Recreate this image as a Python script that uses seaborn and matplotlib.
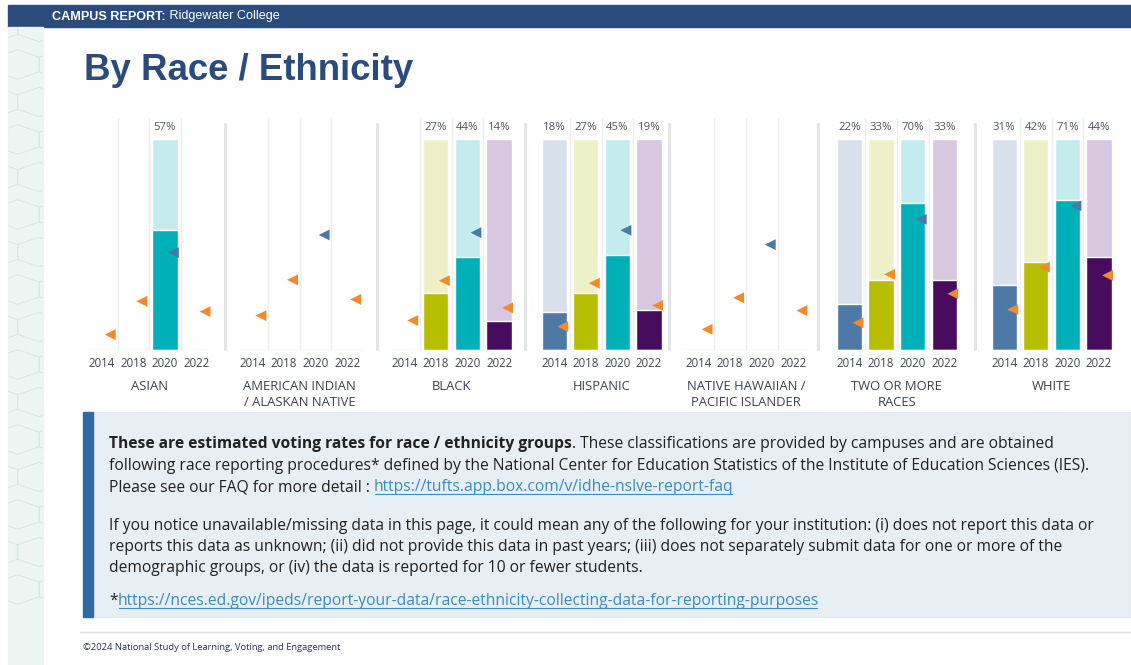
"""Campus report page: estimated voting rates by race / ethnicity."""

import matplotlib

matplotlib.use("Agg")

import matplotlib.pyplot as plt
import numpy as np
import pandas as pd
import seaborn as sns
from matplotlib.lines import Line2D
from matplotlib.patches import Rectangle, RegularPolygon

sns.set_style("white")
plt.rcParams["font.family"] = ["Open Sans", "DejaVu Sans"]

W, H = 1131, 665
nan = np.nan

YEARS = ["2014", "2018", "2020", "2022"]
GROUPS = [
    "ASIAN",
    "AMERICAN INDIAN\n/ ALASKAN NATIVE",
    "BLACK",
    "HISPANIC",
    "NATIVE HAWAIIAN /\nPACIFIC ISLANDER",
    "TWO OR MORE\nRACES",
    "WHITE",
]

# campus voting rate (%), one value per year
ASIAN_RATE = [nan, nan, 57, nan]
AIAN_RATE = [nan, nan, nan, nan]
BLACK_RATE = [nan, 27, 44, 14]
HISPANIC_RATE = [18, 27, 45, 19]
NHPI_RATE = [nan, nan, nan, nan]
MULTI_RATE = [22, 33, 70, 33]
WHITE_RATE = [31, 42, 71, 44]

# comparison markers (%), one value per year
ASIAN_CMP = [7.3, 23.1, 46.2, 18.2]
AIAN_CMP = [16.3, 33.3, 54.6, 24.0]
BLACK_CMP = [14.0, 32.9, 55.7, 20.0]
HISPANIC_CMP = [11.1, 31.7, 56.8, 21.1]
NHPI_CMP = [9.8, 24.8, 50.0, 18.7]
MULTI_CMP = [12.9, 35.9, 62.0, 26.7]
WHITE_CMP = [19.2, 39.3, 68.4, 35.4]

RATES = [ASIAN_RATE, AIAN_RATE, BLACK_RATE, HISPANIC_RATE, NHPI_RATE, MULTI_RATE, WHITE_RATE]
CMPS = [ASIAN_CMP, AIAN_CMP, BLACK_CMP, HISPANIC_CMP, NHPI_CMP, MULTI_CMP, WHITE_CMP]

DARK = {"2014": "#4e78a5", "2018": "#b7be00", "2020": "#00b0b8", "2022": "#470c5e"}
LIGHT = {"2014": "#d7e1eb", "2018": "#eef1c7", "2020": "#c4ecef", "2022": "#d7c8df"}
MARKER = {"2014": "#f28a2c", "2018": "#f28a2c", "2020": "#4e78a5", "2022": "#f28a2c"}

NAVY = "#2b4b7d"
LINK = "#3a8dbf"

# layout in pixels
PANEL_X0 = [101.7, 252.4, 404.2, 554.2, 698.5, 849.5, 1004.2]
COL_W = 31.6
BASE_Y, TOP_Y = 350, 139.3
SEPARATORS = [225, 377, 525, 669, 818, 975]


def fx(x):
    return x / W


def fy(y):
    return 1 - y / H


fig = plt.figure(figsize=(W / 100, H / 100), dpi=100)
renderer = fig.canvas.get_renderer()

# header band
fig.patches.append(
    Rectangle((fx(8), fy(27)), fx(W - 8), 22 / H, transform=fig.transFigure, color=NAVY)
)

# hexagon strip on the left
strip = Rectangle((fx(8), 0), 35 / W, fy(27), transform=fig.transFigure, color="#eef4f2")
fig.patches.append(strip)
for row in range(16):
    for col in range(3):
        cx = col * 43.3 + (21.65 if row % 2 else 0) - 4
        cy = 27 + row * 37.5
        hexagon = RegularPolygon(
            (fx(cx), fy(cy)), 6, radius=25 / W, orientation=0,
            transform=fig.transFigure, facecolor="none", edgecolor="#d9e6e2", lw=0.8,
        )
        fig.patches.append(hexagon)
        hexagon.set_clip_path(strip)


def draw_runs(x, y, runs, size, family="Open Sans"):
    """Draw consecutive text runs on one baseline; returns right edge in pixels."""
    for text, weight, color, underline in runs:
        t = fig.text(fx(x), fy(y), text, fontsize=size, fontweight=weight, color=color,
                     family=family, ha="left", va="baseline")
        bb = t.get_window_extent(renderer)
        if underline:
            fig.lines.append(Line2D([fx(bb.x0 + 1), fx(bb.x1 - 2)], [fy(y + 2.5)] * 2,
                                    transform=fig.transFigure, color=color, lw=0.8))
        x += bb.width
    return x


draw_runs(52, 19.5, [("CAMPUS REPORT:", "bold", "white", False),
                     (" Ridgewater College", "normal", "white", False)],
          9.1, family="Liberation Sans")

fig.text(fx(84), fy(71), "By Race / Ethnicity", fontsize=26.4, fontweight="bold",
         color=NAVY, family="Liberation Sans", ha="left", va="center")

for i, (label, rate, cmp) in enumerate(zip(GROUPS, RATES, CMPS)):
    left = PANEL_X0[i] - COL_W / 2
    ax = fig.add_axes([fx(left), fy(BASE_Y), 4 * COL_W / W, (BASE_Y - TOP_Y) / H])
    df = pd.DataFrame({"year": YEARS, "rate": rate}).dropna()
    df["full"] = 100
    if not df.empty:
        sns.barplot(data=df, x="year", y="full", hue="year", order=YEARS, hue_order=YEARS,
                    palette=LIGHT, width=0.8, saturation=1, legend=False, ax=ax)
        sns.barplot(data=df, x="year", y="rate", hue="year", order=YEARS, hue_order=YEARS,
                    palette=DARK, width=0.8, saturation=1, legend=False, ax=ax)
        for _, r in df.iterrows():
            ax.text(YEARS.index(r["year"]), 105.4, f"{r['rate']:.0f}%", ha="center",
                    va="center", fontsize=8.2, color="#505560", clip_on=False)

    ax.scatter(np.arange(4) + 0.27, cmp, marker="<", s=62,
               c=[MARKER[y] for y in YEARS], linewidths=0, zorder=5, clip_on=False)

    ax.vlines([0.5, 1.5, 2.5], 0, 110, color="#eeeeee", lw=1, zorder=0, clip_on=False)
    ax.axhline(0, color="#e2e2e2", lw=1, zorder=4)
    ax.set_xlim(-0.5, 3.5)
    ax.set_ylim(0, 100)
    ax.set_xticks(range(4), YEARS)
    ax.set_yticks([])
    ax.set_xlabel("")
    ax.set_ylabel("")
    ax.tick_params(axis="x", length=0, pad=5, labelsize=8.3, labelcolor="#3f4450")
    ax.patch.set_alpha(0)
    sns.despine(ax=ax, left=True, bottom=True)

    fig.text(fx(PANEL_X0[i] + 1.5 * COL_W), fy(380), label, ha="center", va="top",
             fontsize=9.4, color="#3c4254", linespacing=1.25)

for sx in SEPARATORS:
    fig.lines.append(Line2D([fx(sx)] * 2, [fy(124), fy(349)], transform=fig.transFigure,
                            color="#e4e4e4", lw=2.2))

# explanatory note box
fig.patches.append(Rectangle((fx(83), fy(617)), fx(W - 83), 205 / H,
                             transform=fig.transFigure, facecolor="#e7eef4",
                             edgecolor="#dfe6ec", lw=0.8))
fig.patches.append(Rectangle((fx(83), fy(617)), 10 / W, 205 / H,
                             transform=fig.transFigure, color="#2f6ca6"))

TXT = "#222222"
NOTE_SIZE = 11.25
draw_runs(109, 448, [("These are estimated voting rates for race / ethnicity groups", "bold", TXT, False),
                     (". These classifications are provided by campuses and are obtained", "normal", TXT, False)],
          NOTE_SIZE)
draw_runs(109, 469.5, [("following race reporting procedures* defined by the National Center for "
                        "Education Statistics of the Institute of Education Sciences (IES).", "normal", TXT, False)],
          NOTE_SIZE)
draw_runs(109, 491, [("Please see our FAQ for more detail : ", "normal", TXT, False),
                     ("https://tufts.app.box.com/v/idhe-nslve-report-faq", "normal", LINK, True)],
          NOTE_SIZE)
draw_runs(109, 529.5, [("If you notice unavailable/missing data in this page, it could mean any of the "
                        "following for your institution: (i) does not report this data or", "normal", TXT, False)],
          NOTE_SIZE)
draw_runs(109, 551, [("reports this data as unknown; (ii) did not provide this data in past years; (iii) "
                      "does not separately submit data for one or more of the", "normal", TXT, False)],
          NOTE_SIZE)
draw_runs(109, 572.5, [("demographic groups, or (iv) the data is reported for 10 or fewer students.",
                        "normal", TXT, False)], NOTE_SIZE)
draw_runs(109, 605, [("*", "normal", TXT, False),
                     ("https://nces.ed.gov/ipeds/report-your-data/race-ethnicity-collecting-data-"
                      "for-reporting-purposes", "normal", LINK, True)], NOTE_SIZE)

# footer
fig.lines.append(Line2D([fx(80), 1], [fy(632)] * 2, transform=fig.transFigure,
                        color="#e2e2e2", lw=1))
fig.text(fx(83), fy(648), "\u00a92024 National Study of Learning, Voting, and Engagement",
         fontsize=6.75, color="#2a3060", ha="left", va="center")

fig.savefig("out.png", dpi=100)
